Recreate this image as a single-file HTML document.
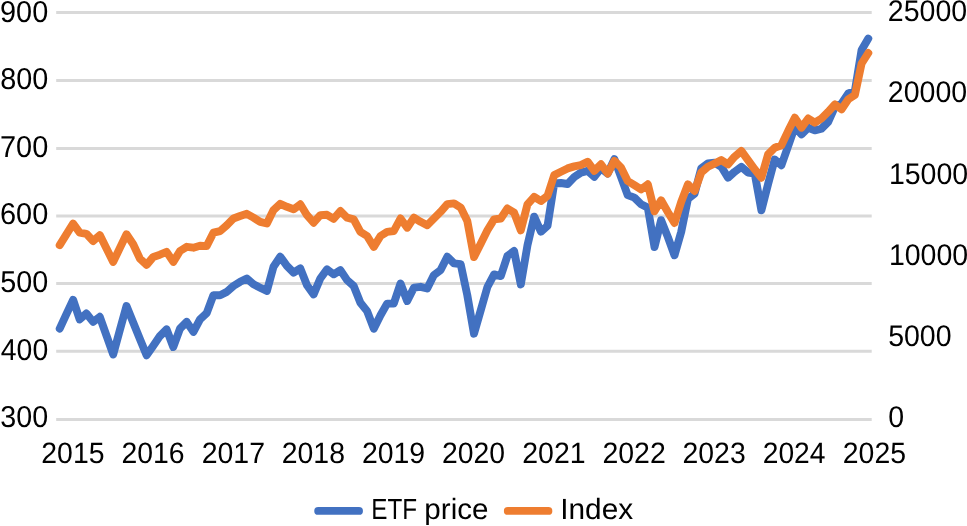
<!DOCTYPE html>
<html><head><meta charset="utf-8"><title>ETF price vs Index</title>
<style>
html,body{margin:0;padding:0;background:#fff;}
body{width:967px;height:526px;overflow:hidden;font-family:"Liberation Sans",sans-serif;}
svg{display:block;will-change:transform;opacity:0.999;}
text{font-family:"Liberation Sans",sans-serif;fill:#000;text-rendering:geometricPrecision;}
.g{stroke:#d9d9d9;stroke-width:3;}
.l{fill:none;stroke-width:7.9;stroke-linejoin:round;stroke-linecap:round;}
</style></head><body>
<svg width="967" height="526" viewBox="0 0 967 526">
<rect width="967" height="526" fill="#fff"/>
<line class="g" x1="56.2" x2="871.7" y1="12.5" y2="12.5"/>
<line class="g" x1="56.2" x2="871.7" y1="80.4" y2="80.4"/>
<line class="g" x1="56.2" x2="871.7" y1="148.5" y2="148.5"/>
<line class="g" x1="56.2" x2="871.7" y1="216.0" y2="216.0"/>
<line class="g" x1="56.2" x2="871.7" y1="283.5" y2="283.5"/>
<line class="g" x1="56.2" x2="871.7" y1="351.3" y2="351.3"/>
<line class="g" x1="56.2" x2="871.7" y1="419.4" y2="419.4"/>
<text x="0.06" y="21.6" font-size="30.2" textLength="48.18" lengthAdjust="spacingAndGlyphs">900</text>
<text x="0.16" y="88.9" font-size="30.2" textLength="48.08" lengthAdjust="spacingAndGlyphs">800</text>
<text x="-0.04" y="156.7" font-size="30.2" textLength="48.28" lengthAdjust="spacingAndGlyphs">700</text>
<text x="-0.04" y="223.8" font-size="30.2" textLength="48.28" lengthAdjust="spacingAndGlyphs">600</text>
<text x="0.26" y="291.9" font-size="30.2" textLength="47.98" lengthAdjust="spacingAndGlyphs">500</text>
<text x="0.84" y="359.9" font-size="30.2" textLength="47.39" lengthAdjust="spacingAndGlyphs">400</text>
<text x="0.35" y="427.4" font-size="30.2" textLength="47.88" lengthAdjust="spacingAndGlyphs">300</text>
<text x="887.86" y="21.2" font-size="29.8" textLength="79.30" lengthAdjust="spacingAndGlyphs">25000</text>
<text x="887.86" y="102.4" font-size="29.8" textLength="79.30" lengthAdjust="spacingAndGlyphs">20000</text>
<text x="888.89" y="183.7" font-size="29.8" textLength="79.30" lengthAdjust="spacingAndGlyphs">15000</text>
<text x="888.89" y="264.9" font-size="29.8" textLength="79.30" lengthAdjust="spacingAndGlyphs">10000</text>
<text x="888.15" y="346.2" font-size="29.8" textLength="63.44" lengthAdjust="spacingAndGlyphs">5000</text>
<text x="888.15" y="427.4" font-size="29.8" textLength="15.86" lengthAdjust="spacingAndGlyphs">0</text>
<text x="41.35" y="463.1" font-size="29.5" textLength="63.12" lengthAdjust="spacingAndGlyphs">2015</text>
<text x="121.50" y="463.1" font-size="29.5" textLength="63.12" lengthAdjust="spacingAndGlyphs">2016</text>
<text x="201.65" y="463.1" font-size="29.5" textLength="63.33" lengthAdjust="spacingAndGlyphs">2017</text>
<text x="281.80" y="463.1" font-size="29.5" textLength="63.13" lengthAdjust="spacingAndGlyphs">2018</text>
<text x="361.95" y="463.1" font-size="29.5" textLength="63.23" lengthAdjust="spacingAndGlyphs">2019</text>
<text x="442.11" y="463.1" font-size="29.5" textLength="63.02" lengthAdjust="spacingAndGlyphs">2020</text>
<text x="522.25" y="463.1" font-size="29.5" textLength="63.33" lengthAdjust="spacingAndGlyphs">2021</text>
<text x="602.40" y="463.1" font-size="29.5" textLength="63.33" lengthAdjust="spacingAndGlyphs">2022</text>
<text x="682.55" y="463.1" font-size="29.5" textLength="63.13" lengthAdjust="spacingAndGlyphs">2023</text>
<text x="762.71" y="463.1" font-size="29.5" textLength="62.73" lengthAdjust="spacingAndGlyphs">2024</text>
<text x="842.85" y="463.1" font-size="29.5" textLength="63.13" lengthAdjust="spacingAndGlyphs">2025</text>
<path class="l" stroke="#4271c1" d="M59.7,328.6 L66.4,314.2 L73.1,299.8 L79.7,319.4 L86.4,313.5 L93.1,321.9 L99.8,316.8 L106.5,335.6 L113.2,354.5 L119.8,330.2 L126.5,306.0 L133.2,322.4 L139.9,338.9 L146.6,355.3 L153.3,345.7 L159.9,336.1 L166.6,329.4 L173.3,347.0 L180.0,328.6 L186.7,321.9 L193.4,331.9 L200.0,319.4 L206.7,313.1 L213.4,295.2 L220.1,295.2 L226.8,291.9 L233.4,286.0 L240.1,281.8 L246.8,278.5 L253.5,284.3 L260.2,287.7 L266.9,291.0 L273.5,266.8 L280.2,256.7 L286.9,265.9 L293.6,272.6 L300.3,268.4 L307.0,285.2 L313.6,294.4 L320.3,278.5 L327.0,269.3 L333.7,274.3 L340.4,270.1 L347.1,280.1 L353.7,286.0 L360.4,302.7 L367.1,311.1 L373.8,328.7 L380.5,315.3 L387.1,303.6 L393.8,303.6 L400.5,283.5 L407.2,301.0 L413.9,287.7 L420.6,286.8 L427.2,288.5 L433.9,275.1 L440.6,270.1 L447.3,256.7 L454.0,263.4 L460.7,264.2 L467.3,295.2 L474.0,333.7 L480.7,310.4 L487.4,287.0 L494.1,274.4 L500.8,276.1 L507.4,256.0 L514.1,251.0 L520.8,284.5 L527.5,245.1 L534.2,216.7 L540.9,231.7 L547.5,225.9 L554.2,183.5 L560.9,183.0 L567.6,184.0 L574.3,177.0 L580.9,172.6 L587.6,170.9 L594.3,176.8 L601.0,168.4 L607.7,173.5 L614.4,159.2 L621.0,177.0 L627.7,195.1 L634.4,197.6 L641.1,204.3 L647.8,207.6 L654.5,247.0 L661.1,220.2 L667.8,236.9 L674.5,255.3 L681.2,231.9 L687.9,198.9 L694.6,193.6 L701.2,168.5 L707.9,163.4 L714.6,162.6 L721.3,166.8 L728.0,177.7 L734.6,171.8 L741.3,166.8 L748.0,172.6 L754.7,173.5 L761.4,210.3 L768.1,184.0 L774.7,159.5 L781.4,165.2 L788.1,146.2 L794.8,126.9 L801.5,134.4 L808.2,127.7 L814.8,130.3 L821.5,128.6 L828.2,121.9 L834.9,106.8 L841.6,103.5 L848.3,93.5 L854.9,91.0 L861.6,50.0 L868.3,38.6"/>
<path class="l" stroke="#ee7d30" d="M59.7,245.2 L66.4,234.4 L73.1,223.7 L79.7,232.6 L86.4,233.8 L93.1,241.0 L99.8,235.1 L106.5,248.5 L113.2,261.9 L119.8,248.1 L126.5,234.3 L133.2,244.3 L139.9,258.6 L146.6,264.9 L153.3,256.9 L159.9,254.7 L166.6,251.9 L173.3,261.9 L180.0,251.0 L186.7,246.8 L193.4,247.7 L200.0,245.7 L206.7,246.1 L213.4,232.7 L220.1,231.1 L226.8,225.2 L233.4,218.5 L240.1,216.0 L246.8,213.8 L253.5,217.7 L260.2,221.9 L266.9,223.5 L273.5,210.1 L280.2,203.8 L286.9,206.8 L293.6,209.3 L300.3,204.3 L307.0,215.2 L313.6,222.7 L320.3,215.2 L327.0,214.8 L333.7,218.8 L340.4,211.0 L347.1,217.7 L353.7,219.3 L360.4,231.9 L367.1,236.0 L373.8,246.9 L380.5,236.0 L387.1,231.9 L393.8,231.0 L400.5,218.5 L407.2,227.7 L413.9,217.6 L420.6,221.8 L427.2,225.2 L433.9,218.5 L440.6,211.8 L447.3,204.2 L454.0,203.4 L460.7,207.6 L467.3,221.0 L474.0,257.0 L480.7,243.7 L487.4,230.3 L494.1,219.4 L500.8,218.5 L507.4,208.5 L514.1,212.7 L520.8,230.3 L527.5,204.3 L534.2,196.8 L540.9,201.0 L547.5,195.9 L554.2,175.1 L560.9,171.8 L567.6,168.4 L574.3,166.4 L580.9,165.1 L587.6,161.7 L594.3,170.9 L601.0,164.2 L607.7,173.5 L614.4,160.9 L621.0,167.5 L627.7,181.0 L634.4,185.2 L641.1,189.4 L647.8,184.3 L654.5,211.3 L661.1,200.3 L667.8,212.0 L674.5,223.0 L681.2,201.9 L687.9,184.4 L694.6,191.0 L701.2,172.6 L707.9,166.8 L714.6,163.4 L721.3,160.1 L728.0,164.3 L734.6,156.7 L741.3,150.9 L748.0,160.1 L754.7,169.3 L761.4,177.7 L768.1,154.4 L774.7,147.8 L781.4,145.3 L788.1,131.1 L794.8,117.7 L801.5,127.7 L808.2,118.5 L814.8,122.7 L821.5,118.5 L828.2,111.8 L834.9,104.3 L841.6,109.3 L848.3,99.3 L854.9,95.0 L861.6,63.5 L868.3,53.0"/>
<line x1="318.2" x2="359" y1="510.9" y2="510.9" stroke="#4271c1" stroke-width="7.9" stroke-linecap="round"/>
<text x="371.19" y="518.6" font-size="29.2" textLength="45.87" lengthAdjust="spacingAndGlyphs">ETF</text>
<text x="424.38" y="518.6" font-size="29.2" textLength="64.13" lengthAdjust="spacingAndGlyphs">price</text>
<line x1="507.8" x2="548.4" y1="510.9" y2="510.9" stroke="#ee7d30" stroke-width="7.9" stroke-linecap="round"/>
<text x="560.25" y="518.6" font-size="29.2" textLength="72.89" lengthAdjust="spacingAndGlyphs">Index</text>
</svg></body></html>
